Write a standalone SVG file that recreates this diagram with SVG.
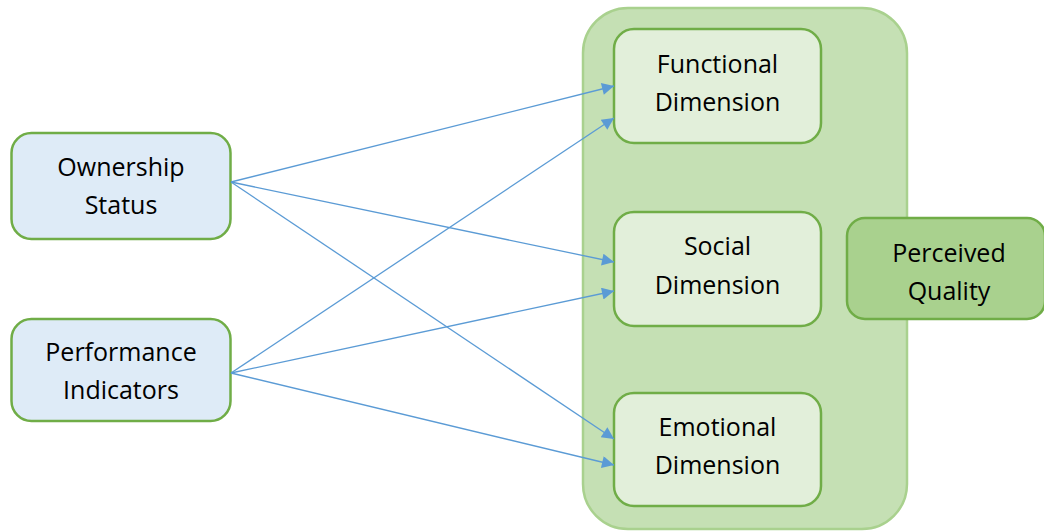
<svg xmlns="http://www.w3.org/2000/svg" width="1044" height="531" viewBox="0 0 1044 531">
<style>
.src{fill:#DEEBF7;stroke:#70AD47;stroke-width:2.5}
.dim{fill:#E2EFDA;stroke:#70AD47;stroke-width:2.5}
.pq{fill:#A9D18E;stroke:#70AD47;stroke-width:2.5}
.cont{fill:#C5E0B4;stroke:#A9D18E;stroke-width:2.5}
text{font-family:"Open Sans","Liberation Sans",sans-serif;font-size:25px;fill:#000;text-anchor:middle}
.conn line{stroke:#5B9BD5;stroke-width:1.3;marker-end:url(#arr)}
</style>
<defs>
<marker id="arr" viewBox="0 0 10 10" refX="10" refY="5" markerWidth="15" markerHeight="12" markerUnits="userSpaceOnUse" orient="auto">
<path d="M0,0 L10,5 L0,10 z" fill="#5B9BD5"/>
</marker>
</defs>
<g id="container"><rect class="cont" x="583" y="8" width="324" height="521" rx="45"/></g>
<g id="ownership"><rect class="src" x="11.5" y="133" width="219" height="106" rx="20"/><text x="121" y="176">Ownership</text><text x="121" y="214">Status</text></g>
<g id="performance"><rect class="src" x="11.5" y="319" width="219" height="102" rx="20"/><text x="121" y="361">Performance</text><text x="121" y="399">Indicators</text></g>
<g id="functional"><rect class="dim" x="614" y="29" width="207" height="114" rx="20"/><text x="717.5" y="73">Functional</text><text x="717.5" y="111">Dimension</text></g>
<g id="social"><rect class="dim" x="614" y="212" width="207" height="114" rx="20"/><text x="717.5" y="255">Social</text><text x="717.5" y="294">Dimension</text></g>
<g id="emotional"><rect class="dim" x="614" y="393" width="207" height="113" rx="20"/><text x="717.5" y="436">Emotional</text><text x="717.5" y="474">Dimension</text></g>
<g id="perceived"><rect class="pq" x="847" y="218" width="198" height="101" rx="18"/><text x="949" y="262">Perceived</text><text x="949" y="300">Quality</text></g>
<g class="conn" id="connectors">
<line x1="231" y1="182" x2="614" y2="86"/>
<line x1="231" y1="182" x2="614" y2="262"/>
<line x1="231" y1="182" x2="614" y2="439"/>
<line x1="231" y1="373" x2="614" y2="118"/>
<line x1="231" y1="373" x2="614" y2="291"/>
<line x1="231" y1="373" x2="614" y2="465"/>
</g>
</svg>
